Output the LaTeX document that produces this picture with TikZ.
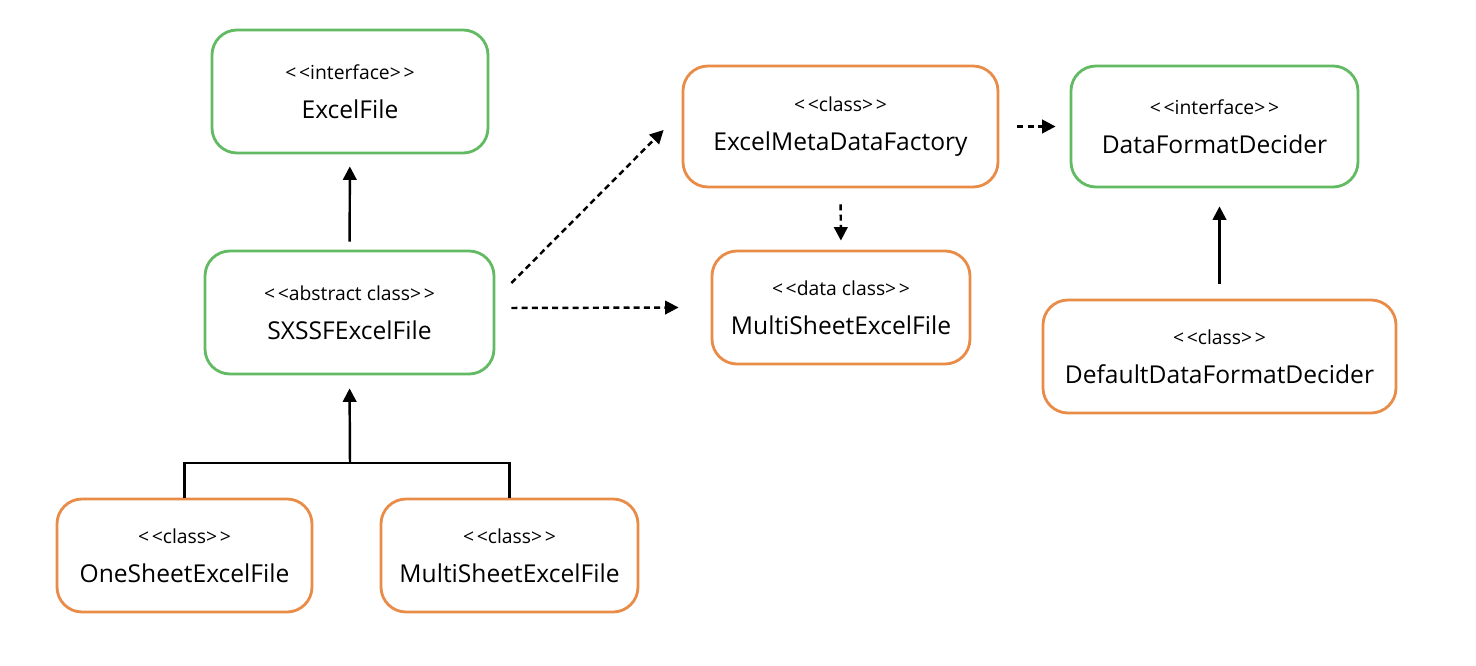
\documentclass[tikz,border=0pt]{standalone}
\usepackage{fontspec}
\setmainfont{Open Sans}
\usepackage{xcolor}
\usepackage{tikz}
\usetikzlibrary{calc,arrows.meta}
\definecolor{IfaceGreen}{RGB}{98, 186, 98}
\definecolor{ClassOrange}{RGB}{232, 140, 72}

\newcommand{\stereo}[1]{{\fontsize{11}{13}\selectfont <\kern1.5pt<#1>\kern1.5pt>}}

\tikzset{
    umlbox/.style={draw, line width=1.6pt, rounded corners=0.5cm, align=center,
        font=\fontsize{14}{16}\selectfont, inner sep=0pt},
    ifacebox/.style={umlbox, IfaceGreen},
    classbox/.style={umlbox, ClassOrange},
    inherit/.style={line width=1.4pt, -{Triangle[length=0.27cm, width=0.27cm]}},
    depend/.style={inherit, dash pattern=on 3.4pt off 2.4pt},
}

\begin{document}
\begin{tikzpicture}
        \useasboundingbox (0,0) rectangle (29.52,-13.32);

        % Left hierarchy
        \node[ifacebox, minimum width=5.52cm, minimum height=2.46cm, text=black] (ifExcel) at (7.0,-1.83) {\stereo{interface}\\[6pt]ExcelFile};
        \node[ifacebox, minimum width=5.78cm, minimum height=2.46cm, text=black] (absSXSSF) at (6.99,-6.25) {\stereo{abstract class}\\[6pt]SXSSFExcelFile};
        \node[classbox, minimum width=5.1cm, minimum height=2.26cm, text=black] (clsOneSheet) at (3.69,-11.11) {\stereo{class}\\[6pt]OneSheetExcelFile};
        \node[classbox, minimum width=5.14cm, minimum height=2.26cm, text=black] (clsMultiSheet) at (10.19,-11.11) {\stereo{class}\\[6pt]MultiSheetExcelFile};

        % Factory and data class
        \node[classbox, minimum width=6.3cm, minimum height=2.42cm, text=black] (factory) at (16.81,-2.53) {\stereo{class}\\[6pt]ExcelMetaDataFactory};
        \node[classbox, minimum width=5.16cm, minimum height=2.26cm, text=black] (dataMulti) at (16.82,-6.15) {\stereo{data class}\\[6pt]MultiSheetExcelFile};

        % Decider
        \node[ifacebox, minimum width=5.74cm, minimum height=2.42cm, text=black] (decider) at (24.29,-2.53) {\stereo{interface}\\[6pt]DataFormatDecider};
        \node[classbox, minimum width=7.06cm, minimum height=2.26cm, text=black] (defaultDecider) at (24.39,-7.13) {\stereo{class}\\[6pt]DefaultDataFormatDecider};

        % Inheritance
        \draw[inherit, shorten <=0.16cm, shorten >=0.24cm] (absSXSSF) -- (ifExcel);
        \coordinate (join) at (7.0,-9.26);
        \draw[line width=1.4pt] (clsOneSheet.north) |- (join) -| (clsMultiSheet.north);
        \draw[inherit, shorten >=0.26cm] (join) -- (absSXSSF.south);
        \draw[inherit, shorten <=0.3cm, shorten >=0.36cm] (defaultDecider.north) -- (defaultDecider.north |- decider.south);

        % Dependencies
        \draw[depend] ($(absSXSSF.east) + (0.32, 0.59)$) -- ($(factory.west) + (-0.36, -0.07)$);
        \draw[depend] ($(absSXSSF.east) + (0.32, 0.09)$) -- ($(dataMulti.west) + (-0.64, 0)$);
        \draw[depend, shorten <=0.32cm, shorten >=0.18cm] (factory.south) -- (dataMulti.north);
        \draw[depend, shorten <=0.36cm, shorten >=0.28cm] (factory.east) -- (decider.west);
    \end{tikzpicture}
\end{document}
